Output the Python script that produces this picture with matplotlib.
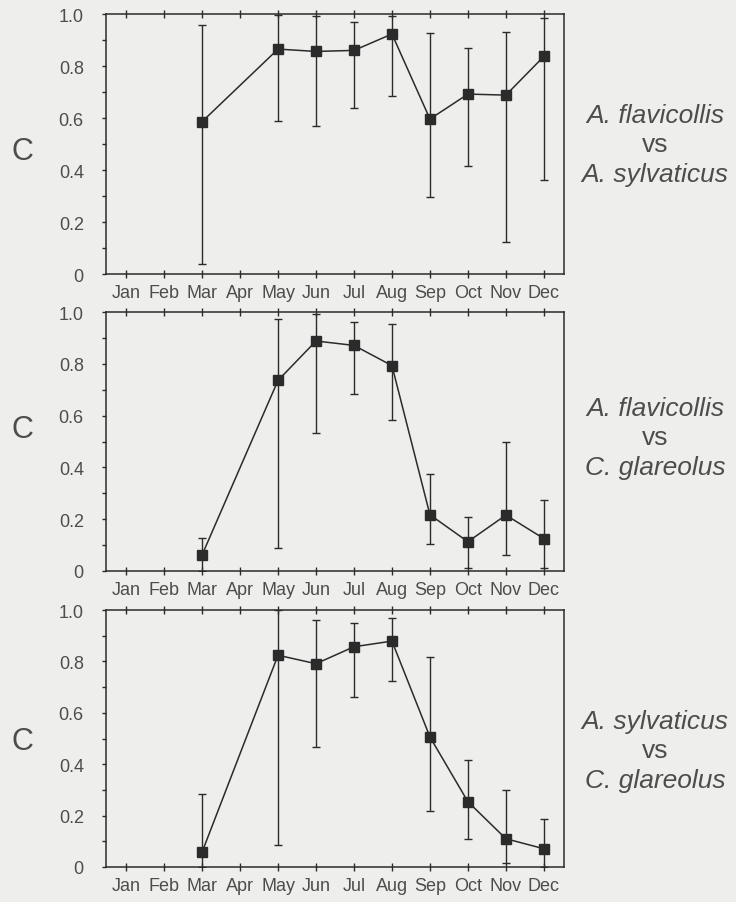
import matplotlib
matplotlib.use("Agg")
import matplotlib.pyplot as plt
from matplotlib.ticker import MultipleLocator

# donnees
months = ['Jan', 'Feb', 'Mar', 'Apr', 'May', 'Jun', 'Jul', 'Aug', 'Sep', 'Oct', 'Nov', 'Dec']
sampled = ['Mar', 'May', 'Jun', 'Jul', 'Aug', 'Sep', 'Oct', 'Nov', 'Dec']

c_flav_sylv = [0.586, 0.865, 0.856, 0.860, 0.923, 0.596, 0.692, 0.688, 0.837]
hi_flav_sylv = [0.958, 0.997, 0.991, 0.968, 0.994, 0.926, 0.870, 0.929, 0.985]
lo_flav_sylv = [0.038, 0.590, 0.568, 0.640, 0.683, 0.295, 0.417, 0.122, 0.362]

c_flav_glar = [0.062, 0.736, 0.888, 0.871, 0.793, 0.217, 0.113, 0.216, 0.125]
hi_flav_glar = [0.126, 0.972, 0.991, 0.961, 0.952, 0.375, 0.207, 0.500, 0.273]
lo_flav_glar = [0.000, 0.089, 0.532, 0.685, 0.582, 0.106, 0.012, 0.060, 0.012]

c_sylv_glar = [0.058, 0.824, 0.791, 0.857, 0.879, 0.506, 0.254, 0.110, 0.071]
hi_sylv_glar = [0.284, 1.000, 0.960, 0.948, 0.969, 0.817, 0.416, 0.301, 0.188]
lo_sylv_glar = [0.000, 0.084, 0.467, 0.663, 0.725, 0.218, 0.108, 0.017, 0.000]

labels = [('A. flavicollis', 'A. sylvaticus'),
          ('A. flavicollis', 'C. glareolus'),
          ('A. sylvaticus', 'C. glareolus')]

bg = '#eeeeec'
ink = '#2b2b2b'
txt = '#4d4d4d'
plt.rcParams['font.family'] = ['Liberation Sans', 'DejaVu Sans']

fig = plt.figure(figsize=(7.36, 9.03), dpi=100, facecolor=bg)

W, H = 736.0, 903.0
# (haut, bas) des axes en pixels
boxes = [(15, 275), (313, 572), (611, 868)]
c_pos = [152, 430, 742]
lab_pos = [147, 440, 753]

series = [(c_flav_sylv, lo_flav_sylv, hi_flav_sylv),
          (c_flav_glar, lo_flav_glar, hi_flav_glar),
          (c_sylv_glar, lo_sylv_glar, hi_sylv_glar)]

xpos = [months.index(m) + 1 for m in sampled]

for i, (top, bot) in enumerate(boxes):
    ax = fig.add_axes([106 / W, 1 - bot / H, (564 - 106) / W, (bot - top) / H])
    ax.set_facecolor(bg)
    c, lo, hi = series[i]
    err_lo = [v - l for v, l in zip(c, lo)]
    err_hi = [h - v for v, h in zip(c, hi)]
    ax.errorbar(xpos, c, yerr=[err_lo, err_hi], color=ink, lw=1.1, elinewidth=1.0,
                capsize=3.2, capthick=1.0, marker='s', ms=7, mfc=ink, mec=ink)
    ax.set_xlim(0.47, 12.53)
    ax.set_ylim(0, 1.0)
    ax.set_xticks(range(1, 13))
    ax.set_xticklabels(months)
    ax.set_yticks([0, 0.2, 0.4, 0.6, 0.8, 1.0])
    ax.set_yticklabels(['0', '0.2', '0.4', '0.6', '0.8', '1.0'])
    ax.yaxis.set_minor_locator(MultipleLocator(0.1))
    ax.tick_params(axis='x', direction='inout', length=6, width=1.0, color=ink,
                   top=True, labelsize=13, labelcolor=txt, pad=4)
    ax.tick_params(axis='y', which='both', direction='out', length=3, width=1.0,
                   color=ink, labelsize=13, labelcolor=txt, pad=13)
    for s in ax.spines.values():
        s.set_color(ink)
        s.set_linewidth(1.1)

    fig.text(22 / W, 1 - c_pos[i] / H, 'C', fontsize=22, color=txt,
             ha='center', va='center')
    a, b = labels[i]
    y0 = 1 - lab_pos[i] / H
    fig.text(655 / W, y0 + 31 / H, a, fontsize=19, color=txt, style='italic',
             ha='center', va='center')
    fig.text(655 / W, y0 + 2 / H, 'vs', fontsize=19, color=txt,
             ha='center', va='center')
    fig.text(655 / W, y0 - 28 / H, b, fontsize=19, color=txt, style='italic',
             ha='center', va='center')

fig.savefig('out.png', dpi=100, facecolor=bg)
